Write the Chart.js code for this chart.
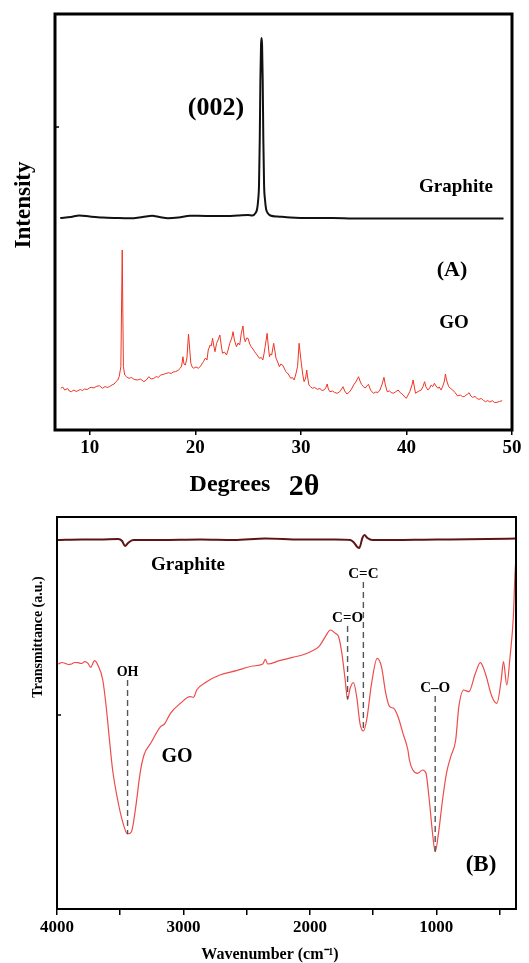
<!DOCTYPE html>
<html lang="en">
<head>
<meta charset="UTF-8">
<title>XRD and FTIR of graphite and GO</title>
<script src="https://cdn.jsdelivr.net/npm/chart.js"></script>
<style>
    body { margin: 0; background: #fff; }
    .panel { position: absolute; left: 0; }
    #xrdPanel { top: 0; }
    #ftirPanel { top: 500px; }
</style>
</head>
<body>
<div class="panel" id="xrdPanel"><canvas id="xrdChart" width="529" height="500"></canvas></div>
<div class="panel" id="ftirPanel"><canvas id="ftirChart" width="529" height="463"></canvas></div>

<script>
// ---- (A) XRD: 2theta (deg), intensity (a.u., stacked) ----
const xrdTicks = [10, 20, 30, 40, 50];

const xrdGraphite = [
    [7.2, 212], [8.2, 213], [9.0, 214.5], [10.0, 213.5], [11.2, 212.5], [12.5, 212],
    [13.8, 211.7], [15.0, 213], [15.9, 214.3], [16.6, 213], [17.4, 211.7], [18.4, 212.5],
    [19.5, 214.3], [21.0, 214], [22.5, 214], [24.0, 214.5], [25.0, 215], [25.4, 214.5],
    [25.7, 217], [25.85, 221], [25.95, 230], [26.03, 245], [26.1, 290], [26.16, 350],
    [26.22, 385], [26.27, 392], [26.32, 385], [26.38, 350], [26.44, 290], [26.51, 245],
    [26.6, 230], [26.7, 221], [26.85, 217], [27.1, 214.5], [27.8, 213.5], [29, 212.5],
    [31, 212], [33, 212], [35, 211.5], [38, 211.5], [41, 211.5], [44, 211.5],
    [47, 211.5], [49.2, 211.5]
];

const xrdGO = [
    [7.24, 41.7], [7.43, 43], [7.62, 40], [7.9, 41.5], [8.05, 39], [8.25, 38.3], [8.5, 40],
    [8.7, 38.5], [8.87, 39.3], [9.1, 40.5], [9.3, 39.5], [9.5, 41], [9.75, 40.5], [9.95, 42],
    [10.13, 42.7], [10.4, 42], [10.6, 43.5], [10.91, 44.3], [11.05, 43], [11.21, 41.7],
    [11.45, 43.5], [11.65, 42.5], [11.85, 43.3], [12.1, 45], [12.3, 46], [12.47, 48.3],
    [12.65, 50], [12.78, 53.3], [12.94, 63.3], [13.07, 180], [13.18, 63.3], [13.31, 55],
    [13.5, 53], [13.72, 51.7], [13.95, 52.5], [14.2, 50.5], [14.5, 50], [14.8, 51],
    [15.12, 48.3], [15.35, 50], [15.6, 53.3], [15.8, 51], [16.07, 51.7], [16.3, 53.5],
    [16.5, 52.5], [16.7, 55], [16.95, 55.5], [17.2, 56.5], [17.47, 57.3], [17.7, 56.5],
    [17.9, 58], [18.1, 58.3], [18.35, 59.5], [18.57, 61.7], [18.7, 64], [18.82, 73.3],
    [18.92, 66], [19.05, 65], [19.2, 72], [19.35, 96], [19.47, 80], [19.57, 66.7],
    [19.7, 63], [19.82, 61.7], [20.05, 63], [20.29, 61.7], [20.5, 64], [20.76, 68.3],
    [20.95, 72], [21.1, 70], [21.22, 80], [21.4, 85], [21.5, 84], [21.63, 91.7],
    [21.75, 84], [21.86, 78.3], [22.01, 86.7], [22.15, 90], [22.32, 95], [22.45, 85],
    [22.57, 76.7], [22.75, 78], [22.95, 75], [23.1, 80], [23.26, 86.7], [23.45, 92],
    [23.57, 98.3], [23.7, 90], [23.89, 83.3], [24.05, 87], [24.2, 85], [24.35, 96.7],
    [24.51, 104], [24.62, 92], [24.73, 88.3], [24.85, 92], [24.99, 91.7], [25.15, 86],
    [25.29, 83.3], [25.45, 81], [25.61, 78.3], [25.85, 75], [26.07, 71.7], [26.25, 72.5],
    [26.39, 70], [26.5, 76], [26.61, 83.3], [26.8, 96.7], [26.9, 85], [27.02, 73.3],
    [27.12, 76], [27.23, 75], [27.42, 86.7], [27.55, 78], [27.64, 71.7], [27.8, 68],
    [27.96, 63.3], [28.1, 66], [28.26, 65], [28.45, 61], [28.58, 58.3], [28.8, 56],
    [29.04, 51.7], [29.2, 52.5], [29.36, 50], [29.5, 55], [29.68, 63.3], [29.83, 86.7],
    [29.95, 75], [30.04, 66.7], [30.18, 55], [30.3, 48.3], [30.45, 52], [30.55, 60],
    [30.65, 52], [30.76, 45], [30.9, 43.5], [31.08, 41.7], [31.3, 42.5], [31.55, 40.7],
    [31.8, 41.5], [32.0, 39.5], [32.18, 40], [32.35, 42], [32.49, 46], [32.6, 41],
    [32.74, 38.3], [33.0, 39], [33.2, 37.5], [33.43, 36.7], [33.7, 38.5], [33.85, 41],
    [33.99, 43.3], [34.15, 39], [34.36, 36], [34.6, 38], [34.8, 41], [34.99, 45],
    [35.2, 48], [35.35, 51], [35.46, 53.3], [35.6, 49], [35.75, 45.5], [35.92, 43.3],
    [36.1, 42], [36.25, 44], [36.4, 45.7], [36.6, 40], [36.87, 36.7], [37.1, 38],
    [37.3, 37.5], [37.49, 40], [37.7, 46], [37.87, 52.7], [38.0, 45], [38.18, 38.3],
    [38.4, 39], [38.55, 37.5], [38.75, 36.7], [38.95, 38], [39.21, 40], [39.4, 37.5],
    [39.69, 35], [39.85, 33], [39.99, 31.7], [40.15, 35], [40.31, 38.3], [40.5, 44],
    [40.63, 50], [40.75, 43], [40.86, 36.7], [41.1, 38.5], [41.4, 40], [41.55, 43],
    [41.72, 48.3], [41.85, 43], [42.03, 40], [42.2, 42], [42.34, 45], [42.5, 43.5],
    [42.65, 46.7], [42.8, 44], [42.97, 41.7], [43.1, 43], [43.28, 40], [43.45, 44],
    [43.6, 49], [43.69, 56], [43.8, 50], [44.0, 43.3], [44.2, 41.5], [44.38, 40],
    [44.6, 37.5], [44.84, 34], [45.1, 35], [45.3, 33.5], [45.47, 33.3], [45.65, 35],
    [45.8, 36], [45.93, 37.3], [46.1, 34], [46.25, 32.7], [46.5, 33.5], [46.7, 31.5],
    [46.87, 30.7], [47.1, 31.5], [47.3, 29.5], [47.5, 28.3], [47.7, 29.5], [47.9, 28],
    [48.13, 29.3], [48.35, 27.5], [48.6, 27.7], [48.8, 28.5], [49.07, 29.3]
];

// ---- (B) FTIR: wavenumber (cm-1), transmittance (a.u., stacked) ----
const ftirTicks = [4000, 3500, 3000, 2500, 2000, 1500, 1000, 500];

const ftirGraphite = [
    [4000, 369], [3800, 369.5], [3660, 369.5], [3517, 370], [3485, 368], [3462, 363],
    [3438, 366], [3398, 369], [3184, 369], [2868, 369.5], [2600, 369], [2353, 370.5],
    [2076, 369.5], [1800, 369.5], [1680, 369], [1656, 367], [1625, 362], [1609, 361],
    [1585, 371], [1569, 374], [1545, 371], [1506, 369], [1284, 369], [1100, 369.3],
    [888, 369.5], [600, 370], [372, 370.5]
];

const ftirGO = [
    [3990, 245], [3960, 246.5], [3937, 245.7], [3910, 244.5], [3885, 245], [3860, 246.5],
    [3833, 246.3], [3805, 245.5], [3781, 247.3], [3755, 245.7], [3734, 241.7], [3703, 248.3],
    [3677, 244], [3638, 229], [3611, 202.3], [3585, 169], [3560, 139], [3520, 109],
    [3481, 87.3], [3442, 75], [3411, 77.3], [3377, 102.3], [3343, 135.7], [3312, 154],
    [3259, 165.7], [3181, 182.3], [3150, 185], [3103, 195.7], [3024, 205.7], [2946, 212.3],
    [2920, 211.7], [2895, 219], [2816, 227.3], [2712, 234], [2582, 238.3], [2451, 243],
    [2373, 245], [2352, 249.7], [2334, 245], [2242, 248.3], [2138, 251.7], [2060, 254],
    [1995, 257.3], [1929, 262.3], [1878, 272.3], [1838, 279], [1799, 275.7], [1773, 272.3],
    [1747, 255.7], [1721, 229], [1702, 209.7], [1682, 220.7], [1655, 226.3], [1630, 212.3],
    [1604, 185.7], [1577, 178], [1551, 189], [1512, 225.7], [1468, 250.7], [1434, 242.3],
    [1400, 215.7], [1369, 202.3], [1338, 200.7], [1303, 192.3], [1264, 175.7], [1225, 159],
    [1213, 149], [1186, 139], [1147, 135.7], [1108, 139], [1082, 135.7], [1056, 109],
    [1030, 75.7], [1009, 57.3], [983, 75.7], [951, 109], [920, 135.7], [886, 152.3],
    [847, 169], [822, 202.3], [783, 219], [743, 217.3], [691, 235.7], [652, 246.3],
    [613, 235.7], [560, 212.3], [521, 205.7], [487, 229], [469, 247.3], [443, 224],
    [417, 252.3], [391, 292.3], [378, 335], [372, 348]
];

// band assignments marked with dashed drop lines
const bandNames = ['OH', 'C=O', 'C=C', 'C\u2013O'];
const bandWn = [3442, 1702, 1577, 1009];

const SERIF = '"Liberation Serif", "Times New Roman", serif';
const toXY = arr => arr.map(p => ({ x: p[0], y: p[1] }));

function text(ctx, str, x, y, size, rot) {
    ctx.save();
    ctx.font = 'bold ' + size + 'px ' + SERIF;
    ctx.fillStyle = '#000';
    ctx.textAlign = 'center';
    ctx.textBaseline = 'middle';
    ctx.translate(x, y);
    if (rot) ctx.rotate(rot);
    ctx.fillText(str, 0, 0);
    ctx.restore();
}

function frame(chart, lw) {
    const a = chart.chartArea, ctx = chart.ctx;
    ctx.save();
    ctx.strokeStyle = '#000';
    ctx.lineWidth = lw;
    ctx.strokeRect(a.left, a.top, a.right - a.left, a.bottom - a.top);
    ctx.restore();
}

// small inward tick on the left axis
function yStub(chart, value) {
    const ctx = chart.ctx, a = chart.chartArea;
    const py = chart.scales.y.getPixelForValue(value);
    ctx.save();
    ctx.strokeStyle = '#000';
    ctx.lineWidth = 1.5;
    ctx.beginPath();
    ctx.moveTo(a.left, py);
    ctx.lineTo(a.left + 4, py);
    ctx.stroke();
    ctx.restore();
}

const tickFont = size => ({ family: SERIF, size: size, weight: 'bold' });

// ---------- XRD chart ----------
const xrdDecor = {
    id: 'xrdDecor',
    afterDraw(chart) {
        const ctx = chart.ctx;
        frame(chart, 3);
        yStub(chart, 303);
        text(ctx, 'Intensity', 24, 205, 23, -Math.PI / 2);
        text(ctx, '(002)', 216, 108, 26);
        text(ctx, 'Graphite', 456, 187, 19);
        text(ctx, '(A)', 452, 270, 22);
        text(ctx, 'GO', 454, 323, 19);
        text(ctx, 'Degrees', 230, 485, 24);
        text(ctx, '2\u03b8', 304, 487, 30);
    }
};

new Chart(document.getElementById('xrdChart'), {
    type: 'line',
    data: {
        datasets: [
            {
                label: 'Graphite',
                data: toXY(xrdGraphite),
                borderColor: '#111',
                borderWidth: 2,
                pointRadius: 0,
                cubicInterpolationMode: 'monotone'
            },
            {
                label: 'GO',
                data: toXY(xrdGO),
                borderColor: '#ee3524',
                borderWidth: 1,
                pointRadius: 0,
                tension: 0
            }
        ]
    },
    options: {
        responsive: false,
        animation: false,
        devicePixelRatio: 1,
        layout: { padding: { left: 0, right: 17, top: 14, bottom: 0 } },
        plugins: { legend: { display: false }, tooltip: { enabled: false } },
        scales: {
            x: {
                type: 'linear',
                min: 6.7,
                max: 50,
                afterBuildTicks: s => { s.ticks = xrdTicks.map(v => ({ value: v })); },
                afterFit: s => { s.height = 70; },
                border: { display: false },
                grid: { drawOnChartArea: false, drawTicks: true, tickLength: 5, color: '#000', lineWidth: 1.5 },
                ticks: { color: '#000', font: tickFont(19), padding: 2, maxRotation: 0 }
            },
            y: {
                min: 0,
                max: 416,
                afterFit: s => { s.width = 55; },
                border: { display: false },
                grid: { display: false },
                ticks: { display: false }
            }
        }
    },
    plugins: [xrdDecor]
});

// ---------- FTIR chart ----------
function nearestValue(series, wn) {
    let best = series[0];
    series.forEach(p => { if (Math.abs(p[0] - wn) < Math.abs(best[0] - wn)) best = p; });
    return best[1];
}

const labelRow = { 'OH': 172, 'C=O': 118, 'C=C': 74, 'C\u2013O': 188 };

const ftirDecor = {
    id: 'ftirDecor',
    afterDraw(chart) {
        const ctx = chart.ctx;
        const xs = chart.scales.x, ys = chart.scales.y;
        frame(chart, 2);
        yStub(chart, 194);

        bandNames.forEach((name, i) => {
            const px = xs.getPixelForValue(bandWn[i]);
            const ly = labelRow[name];
            const bottom = ys.getPixelForValue(nearestValue(ftirGO, bandWn[i]));
            ctx.save();
            ctx.strokeStyle = '#555';
            ctx.lineWidth = 1.4;
            ctx.setLineDash([6, 4]);
            ctx.beginPath();
            ctx.moveTo(px, ly + 8);
            ctx.lineTo(px, bottom);
            ctx.stroke();
            ctx.restore();
            text(ctx, name, px, ly, name === 'OH' ? 14 : 15);
        });

        text(ctx, 'Graphite', 188, 65, 19);
        text(ctx, 'GO', 177, 257, 20);
        text(ctx, '(B)', 481, 365, 23);
        text(ctx, 'Transmittance (a.u.)', 38, 137, 14, -Math.PI / 2);
        text(ctx, 'Wavenumber (cm\u207b\u00b9)', 270, 455, 16);
    }
};

new Chart(document.getElementById('ftirChart'), {
    type: 'line',
    data: {
        datasets: [
            {
                label: 'Graphite',
                data: toXY(ftirGraphite),
                borderColor: '#5e1414',
                borderWidth: 2,
                pointRadius: 0,
                cubicInterpolationMode: 'monotone'
            },
            {
                label: 'GO',
                data: toXY(ftirGO),
                borderColor: '#ee4b4b',
                borderWidth: 1.2,
                pointRadius: 0,
                cubicInterpolationMode: 'monotone'
            }
        ]
    },
    options: {
        responsive: false,
        animation: false,
        devicePixelRatio: 1,
        layout: { padding: { left: 0, right: 13, top: 17, bottom: 0 } },
        plugins: { legend: { display: false }, tooltip: { enabled: false } },
        scales: {
            x: {
                type: 'linear',
                reverse: true,
                min: 370,
                max: 4000,
                afterBuildTicks: s => { s.ticks = ftirTicks.map(v => ({ value: v })); },
                afterFit: s => { s.height = 54; },
                border: { display: false },
                grid: { drawOnChartArea: false, drawTicks: true, tickLength: 6, color: '#000', lineWidth: 1.5 },
                ticks: {
                    color: '#000',
                    font: tickFont(17),
                    padding: 2,
                    maxRotation: 0,
                    callback: v => (v % 1000 === 0 ? String(v) : '')
                }
            },
            y: {
                min: 0,
                max: 392,
                afterFit: s => { s.width = 57; },
                border: { display: false },
                grid: { display: false },
                ticks: { display: false }
            }
        }
    },
    plugins: [ftirDecor]
});
</script>
</body>
</html>
